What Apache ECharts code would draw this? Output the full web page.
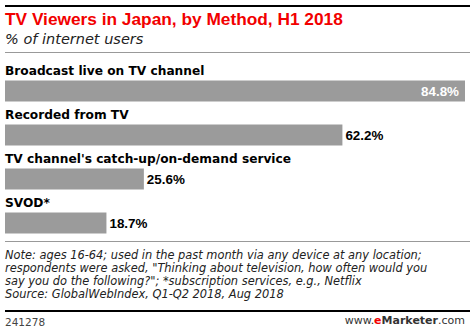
<!DOCTYPE html>
<html>
<head>
<meta charset="utf-8">
<script src="https://cdn.jsdelivr.net/npm/echarts@6/dist/echarts.min.js"></script>
<style>html,body{margin:0;padding:0;background:#fff;}#c{width:470px;height:333px;}</style>
</head>
<body>
<div id="c"></div>
<script>
var categories = ["Broadcast live on TV channel", "Recorded from TV", "TV channel's catch-up/on-demand service", "SVOD*"];
var values = [84.8, 62.2, 25.6, 18.7];
var titleText = "TV Viewers in Japan, by Method, H1 2018";
var subtitleText = "% of internet users";
var noteLines = [
  "Note: ages 16-64; used in the past month via any device at any location;",
  "respondents were asked, \"Thinking about television, how often would you",
  "say you do the following?\"; *subscription services, e.g., Netflix",
  "Source: GlobalWebIndex, Q1-Q2 2018, Aug 2018"
];
var chartId = "241278";

var chart = echarts.init(document.getElementById('c'), null, {renderer: 'svg'});
var FONT = "DejaVu Sans";
var FONT2 = "Liberation Sans";
chart.setOption({
  animation: false,
  backgroundColor: '#fff',
  grid: {left: 5, right: 5, top: 69, height: 176, containLabel: false},
  xAxis: {type: 'value', min: 0, max: Math.max.apply(null, values), show: false},
  yAxis: {type: 'category', data: categories, inverse: true, show: false},
  series: [
    {
      type: 'bar', barWidth: 21, silent: true,
      itemStyle: {color: '#9b9b9b'},
      label: {
        show: true, fontFamily: FONT2, fontWeight: 'bold', fontSize: 13.4,
        formatter: function (p) { return p.value.toFixed(1) + '%'; },
        position: 'right', distance: 3, color: '#000'
      },
      data: values.map(function (v, i) {
        if (i === 0) {
          return {value: v, label: {position: 'insideRight', distance: 6, color: '#fff'}};
        }
        return v;
      })
    },
    {
      type: 'bar', data: values, barWidth: 21, barGap: '-100%', silent: true,
      itemStyle: {color: 'rgba(0,0,0,0)'},
      label: {
        show: true, position: [0, -16], formatter: '{b}',
        fontFamily: FONT, fontWeight: 'bold', fontSize: 12.2, color: '#000'
      }
    }
  ],
  graphic: [
    {type: 'rect', shape: {x: 5, y: 5, width: 465, height: 2}, style: {fill: '#000'}},
    {type: 'text', left: 5, top: 10.5, style: {text: titleText, fontFamily: FONT2, fontWeight: 'bold', fontSize: 17.3, fill: '#f20000'}},
    {type: 'text', left: 5, top: 31, style: {text: subtitleText, fontFamily: FONT, fontStyle: 'italic', fontSize: 14.5, fill: '#222'}},
    {type: 'rect', shape: {x: 5, y: 52, width: 465, height: 1}, style: {fill: '#999'}},
    {type: 'rect', shape: {x: 5, y: 241, width: 465, height: 1}, style: {fill: '#999'}},
    {type: 'text', left: 5, top: 248, style: {text: noteLines.join('\n'), fontFamily: FONT, fontStyle: 'italic', fontSize: 11.4, lineHeight: 13.2, fill: '#222'}},
    {type: 'rect', shape: {x: 5, y: 310, width: 465, height: 2}, style: {fill: '#000'}},
    {type: 'text', left: 5, top: 316, style: {text: chartId, fontFamily: FONT, fontSize: 10.5, fill: '#444'}},
    {type: 'text', right: 5, top: 315, style: {
      text: '{a|www.}{b|e}{c|Marketer}{a|.com}',
      rich: {
        a: {fontFamily: FONT, fontSize: 11, fill: '#333'},
        b: {fontFamily: FONT, fontSize: 11, fontWeight: 'bold', fill: '#f20000'},
        c: {fontFamily: FONT, fontSize: 11, fontWeight: 'bold', fill: '#333'}
      }
    }}
  ]
});
</script>
</body>
</html>
